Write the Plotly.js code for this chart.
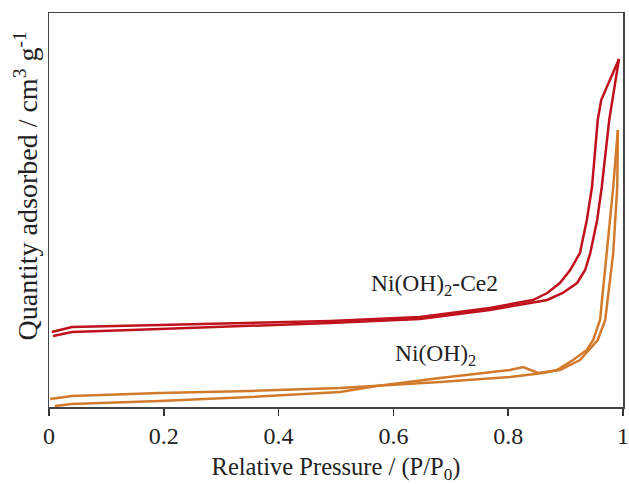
<!DOCTYPE html>
<html>
<head>
<meta charset="utf-8">
<script src="https://cdn.plot.ly/plotly-3.0.1.min.js"></script>
<style>html,body{margin:0;padding:0;background:#fff;}#chart{width:629px;height:484px;}</style>
</head>
<body>
<div id="chart"></div>
<script>
// Ni(OH)2-Ce2 adsorption branch
const ceAdsP = [0.007,0.040,0.193,0.350,0.490,0.646,0.768,0.838,0.868,0.895,0.920,0.934,0.943,0.955,0.963,0.976,0.993];
const ceAdsQ = [71,75,78,81,84,88,97,104,107,114,124,137,154,187,220,287,348];
// Ni(OH)2-Ce2 desorption branch
const ceDesP = [0.005,0.040,0.193,0.350,0.490,0.646,0.768,0.843,0.868,0.890,0.908,0.925,0.937,0.946,0.956,0.962,0.993];
const ceDesQ = [75,80,82,84,86,90,99,107,114,124,137,154,187,220,287,307,348];
// Ni(OH)2 adsorption branch
const niAdsP = [0.010,0.040,0.193,0.350,0.507,0.571,0.681,0.803,0.826,0.852,0.890,0.925,0.956,0.969,0.983,0.990,0.991];
const niAdsQ = [1,3,6,10,15,21,29,37,40,34,37,47,67,87,154,220,277];
// Ni(OH)2 desorption branch
const niDesP = [0.002,0.040,0.193,0.350,0.507,0.571,0.681,0.803,0.861,0.885,0.913,0.937,0.948,0.960,0.972,0.983,0.991];
const niDesQ = [8,11,14,16,19,21,25,30,34,37,47,57,67,87,154,220,277];

const tickVals = [0,0.2,0.4,0.6,0.8,1];
const tickText = ['0','0.2','0.4','0.6','0.8','1'];
const seriesLabels = ['Ni(OH)<sub>2</sub>-Ce2','Ni(OH)<sub>2</sub>'];

const red = '#C0121C';
const orange = '#D27A2C';
const font = '"Liberation Serif","Times New Roman",serif';

const traces = [
  {x: ceAdsP, y: ceAdsQ, mode: 'lines', line: {color: red, width: 2.5}},
  {x: ceDesP, y: ceDesQ, mode: 'lines', line: {color: red, width: 2.5}},
  {x: niAdsP, y: niAdsQ, mode: 'lines', line: {color: orange, width: 2.5}},
  {x: niDesP, y: niDesQ, mode: 'lines', line: {color: orange, width: 2.5}}
];

const layout = {
  width: 629, height: 484,
  margin: {l: 49, r: 6, t: 13, b: 77},
  paper_bgcolor: '#fff', plot_bgcolor: '#fff',
  showlegend: false,
  font: {family: font, color: '#222', size: 22},
  xaxis: {
    range: [0, 1], tickvals: tickVals, ticktext: tickText,
    ticks: 'outside', ticklen: 7, tickwidth: 1.5, tickcolor: '#333',
    showline: true, linecolor: '#444', linewidth: 1.5, mirror: true,
    showgrid: false, zeroline: false,
    tickfont: {family: font, size: 24, color: '#222'},
    title: {text: 'Relative Pressure / (P/P<sub>0</sub>)', font: {family: font, size: 24.5, color: '#222'}, standoff: 10}
  },
  yaxis: {
    range: [0, 394], showticklabels: false, ticks: '',
    showline: true, linecolor: '#444', linewidth: 1.5, mirror: true,
    showgrid: false, zeroline: false
  },
  annotations: [
    {xref: 'paper', yref: 'paper', x: -0.04, y: 0.56, text: 'Quantity adsorbed / cm<sup>3</sup> g<sup>-1</sup>',
     textangle: -90, showarrow: false, font: {family: font, size: 28, color: '#222'}, xanchor: 'center', yanchor: 'middle'},
    {xref: 'x', yref: 'y', x: 0.672, y: 122, text: seriesLabels[0], showarrow: false,
     font: {family: font, size: 23.5, color: '#222'}, xanchor: 'center', yanchor: 'middle'},
    {xref: 'x', yref: 'y', x: 0.674, y: 52, text: seriesLabels[1], showarrow: false,
     font: {family: font, size: 23.5, color: '#222'}, xanchor: 'center', yanchor: 'middle'}
  ]
};

Plotly.newPlot('chart', traces, layout, {displayModeBar: false, staticPlot: true});
</script>
</body>
</html>
